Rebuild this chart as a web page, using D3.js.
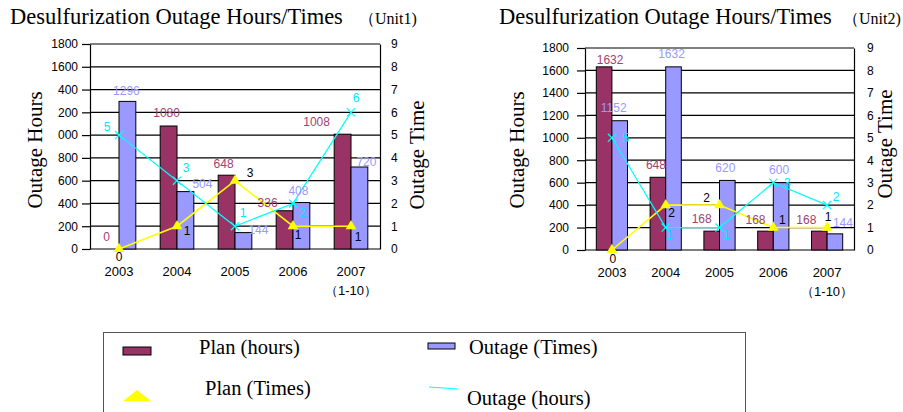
<!DOCTYPE html>
<html>
<head>
<meta charset="utf-8">
<script src="https://cdn.jsdelivr.net/npm/d3@7"></script>
<style>
body { margin: 0; background: #fff; }
svg { display: block; }
.tick text { font-family: "Liberation Sans", Arial, sans-serif; font-size: 12px; fill: #000; }
.serif { font-family: "Liberation Serif", "Times New Roman", serif; fill: #000; }
.lbl { font-family: "Liberation Sans", Arial, sans-serif; font-size: 12px; }
</style>
</head>
<body>
<svg id="chart" width="903" height="412"></svg>
<script>
// data
const years = ["2003", "2004", "2005", "2006", "2007"];
const yearNotes = ["", "", "", "", "（1-10）"];
const hoursTicks = [0, 200, 400, 600, 800, 1000, 1200, 1400, 1600, 1800];
const timesTicks = [0, 1, 2, 3, 4, 5, 6, 7, 8, 9];

const unit1PlanHours = [0, 1080, 648, 336, 1008];
const unit1OutageHours = [1296, 504, 144, 408, 720];
const unit1PlanTimes = [0, 1, 3, 1, 1];
const unit1OutageTimes = [5, 3, 1, 2, 6];

const unit2PlanHours = [1632, 648, 168, 168, 168];
const unit2OutageHours = [1152, 1632, 620, 600, 144];
const unit2PlanTimes = [0, 2, 2, 1, 1];
const unit2OutageTimes = [5, 1, 1, 3, 2];

const planColor = "#993366";
const outageColor = "#9999ff";

const svg = d3.select("#chart");

function drawUnit(cfg) {
  const g = svg.append("g");
  const x = d3.scaleBand().domain(years).range([cfg.left, cfg.right]);
  const yH = d3.scaleLinear().domain([0, 1800]).range([cfg.bottom, cfg.top]);
  const yT = d3.scaleLinear().domain([0, 9]).range([cfg.bottom, cfg.top]);
  const cx = d => x(d) + x.bandwidth() / 2;
  const barW = x.bandwidth() * 0.29;

  // title
  g.append("text").attr("class", "serif")
    .attr("x", cfg.titleX).attr("y", 24).style("font-size", "22.5px")
    .text("Desulfurization Outage Hours/Times");
  g.append("text").attr("class", "serif")
    .attr("x", cfg.unitX).attr("y", 24).style("font-size", "16px")
    .text(cfg.unit);

  // gridlines
  g.append("g").selectAll("line").data(hoursTicks).enter().append("line")
    .attr("x1", cfg.left).attr("x2", cfg.right)
    .attr("y1", d => yH(d)).attr("y2", d => yH(d))
    .attr("stroke", "#000").attr("stroke-width", 1.2);

  // axes
  g.append("g").attr("transform", `translate(${cfg.left},0)`)
    .call(d3.axisLeft(yH).tickValues(hoursTicks).tickFormat(d => d)
      .tickSize(8).tickSizeOuter(0).tickPadding(cfg.padL))
    .call(a => a.selectAll("line, path").attr("stroke", "#000").attr("stroke-width", 1.2));
  g.append("g").attr("transform", `translate(${cfg.right},0)`)
    .call(d3.axisRight(yT).tickValues(timesTicks).tickFormat(d => d)
      .tickSize(0).tickSizeOuter(0).tickPadding(cfg.padR))
    .call(a => a.selectAll("line, path").attr("stroke", "#000").attr("stroke-width", 1.2));

  // year labels
  g.append("g").selectAll("text").data(years).enter().append("text")
    .attr("class", "lbl").style("font-size", "13px")
    .attr("x", d => cx(d)).attr("y", cfg.bottom + 27)
    .attr("text-anchor", "middle").text(d => d);
  g.append("g").selectAll("text").data(yearNotes).enter().append("text")
    .attr("class", "lbl").style("font-size", "13px")
    .attr("x", (d, i) => cx(years[i])).attr("y", cfg.bottom + 46)
    .attr("text-anchor", "middle").text(d => d);

  // axis titles (white box hides clipped digits like the original)
  if (cfg.titleMask) {
    g.append("rect").attr("x", cfg.hoursTitleX - 13).attr("y", cfg.hoursTitleY - 66)
      .attr("width", 35.6).attr("height", 132).attr("fill", "#fff");
  }
  g.append("text").attr("class", "serif").style("font-size", "21px")
    .attr("transform", `translate(${cfg.hoursTitleX + 7},${cfg.hoursTitleY}) rotate(-90)`)
    .attr("text-anchor", "middle").text("Outage Hours");
  g.append("text").attr("class", "serif").style("font-size", "21px")
    .attr("transform", `translate(${cfg.timeTitleX + 7},${cfg.timeTitleY}) rotate(-90)`)
    .attr("text-anchor", "middle").text("Outage Time");

  // bars
  g.append("g").selectAll("rect").data(cfg.planHours).enter().append("rect")
    .attr("x", (d, i) => cx(years[i]) - barW).attr("width", barW)
    .attr("y", d => yH(d)).attr("height", d => cfg.bottom - yH(d))
    .attr("fill", planColor).attr("stroke", "#000").attr("stroke-width", 1);
  g.append("g").selectAll("rect").data(cfg.outageHours).enter().append("rect")
    .attr("x", (d, i) => cx(years[i])).attr("width", barW)
    .attr("y", d => yH(d)).attr("height", d => cfg.bottom - yH(d))
    .attr("fill", outageColor).attr("stroke", "#000").attr("stroke-width", 1);

  // lines
  const line = d3.line().x((d, i) => cx(years[i])).y(d => yT(d));
  g.append("path").datum(cfg.planTimes).attr("d", line)
    .attr("fill", "none").attr("stroke", "#ffff00").attr("stroke-width", 1.6);
  g.append("path").datum(cfg.outageTimes).attr("d", line)
    .attr("fill", "none").attr("stroke", "#00ffff").attr("stroke-width", 1.2);

  g.append("g").selectAll("path").data(cfg.planTimes).enter().append("path")
    .attr("d", d3.symbol(d3.symbolTriangle, 50))
    .attr("transform", (d, i) => `translate(${cx(years[i])},${yT(d)})`)
    .attr("fill", "#ffff00");
  g.append("g").selectAll("path").data(cfg.outageTimes).enter().append("path")
    .attr("d", d3.symbol(d3.symbolX, 45))
    .attr("transform", (d, i) => `translate(${cx(years[i])},${yT(d)})`)
    .attr("fill", "none").attr("stroke", "#00ffff").attr("stroke-width", 1.2);

  // data labels
  const nudge = cfg.nudge;
  function labels(data, color, px, py, shift) {
    g.append("g").selectAll("text").data(data).enter().append("text")
      .attr("class", "lbl").attr("fill", color)
      .attr("x", (d, i) => px(d, i) + shift[i][0])
      .attr("y", (d, i) => py(d, i) + shift[i][1] + 4)
      .attr("text-anchor", "middle").text(d => d);
  }
  labels(cfg.planHours, "#a3426f", (d, i) => cx(years[i]) - barW / 2, d => yH(d) - 12, nudge.planHours);
  labels(cfg.outageHours, outageColor, (d, i) => cx(years[i]) + barW / 2, d => yH(d) - 12, nudge.outageHours);
  labels(cfg.planTimes, "#000", (d, i) => cx(years[i]), d => yT(d), nudge.planTimes);
  labels(cfg.outageTimes, "#00e5ff", (d, i) => cx(years[i]), d => yT(d), nudge.outageTimes);
}

drawUnit({
  unit: "（Unit1)", titleX: 10, unitX: 359,
  left: 90, right: 380, top: 44, bottom: 249, padL: 4, padR: 11,
  hoursTitleX: 35, hoursTitleY: 150, timeTitleX: 417, timeTitleY: 155, titleMask: true,
  planHours: unit1PlanHours, outageHours: unit1OutageHours,
  planTimes: unit1PlanTimes, outageTimes: unit1OutageTimes,
  nudge: {
    planHours: [[-4, 0], [-2, -1], [-3, 1], [-17, 4], [-26, 0]],
    outageHours: [[-1, 2], [17, 4], [15, 9], [-3, 0], [7, 7]],
    planTimes: [[0, 8], [10, 5], [15, -8], [5, 9], [7, 11]],
    outageTimes: [[-12, -8], [9, -13], [8, -13], [10, 10], [5, -14]]
  }
});

drawUnit({
  unit: "（Unit2)", titleX: 499, unitX: 843,
  left: 585, right: 854, top: 48, bottom: 250, padL: 8, padR: 13,
  hoursTitleX: 517, hoursTitleY: 150, timeTitleX: 885, timeTitleY: 144, titleMask: false,
  planHours: unit2PlanHours, outageHours: unit2OutageHours,
  planTimes: unit2PlanTimes, outageTimes: unit2OutageTimes,
  nudge: {
    planHours: [[6, 5], [-2, 0], [-10, 0], [-10, 1], [-13, 1]],
    outageHours: [[-6, -1], [-2, -1], [-2, 0], [-2, -1], [8, 1]],
    planTimes: [[1, 9], [6, 8], [-13, -7], [9, -8], [1, -11]],
    outageTimes: [[14, 0], [4, 7], [7, 7], [14, 0], [9, -8]]
  }
});

// legend
const legend = svg.append("g");
legend.append("rect").attr("x", 103.5).attr("y", 332.5).attr("width", 642).attr("height", 100)
  .attr("fill", "none").attr("stroke", "#555").attr("stroke-width", 1);
legend.append("rect").attr("x", 123).attr("y", 347).attr("width", 28).attr("height", 8)
  .attr("fill", planColor).attr("stroke", "#000");
legend.append("rect").attr("x", 428).attr("y", 343).attr("width", 27).attr("height", 6)
  .attr("fill", outageColor).attr("stroke", "#000");
legend.append("path").attr("d", "M123,401L151,401L137,390Z").attr("fill", "#ffff00");
legend.append("path").attr("d", "M429,387L458,389").attr("stroke", "#00ffff").attr("stroke-width", 1.2);
const legendItems = [
  ["Plan (hours)", 199, 354], ["Outage (Times)", 469, 354],
  ["Plan (Times)", 205, 395], ["Outage (hours)", 467, 405]
];
legend.selectAll("text.item").data(legendItems).enter().append("text")
  .attr("class", "serif item").style("font-size", "20.5px")
  .attr("x", d => d[1]).attr("y", d => d[2]).text(d => d[0]);
</script>
</body>
</html>
